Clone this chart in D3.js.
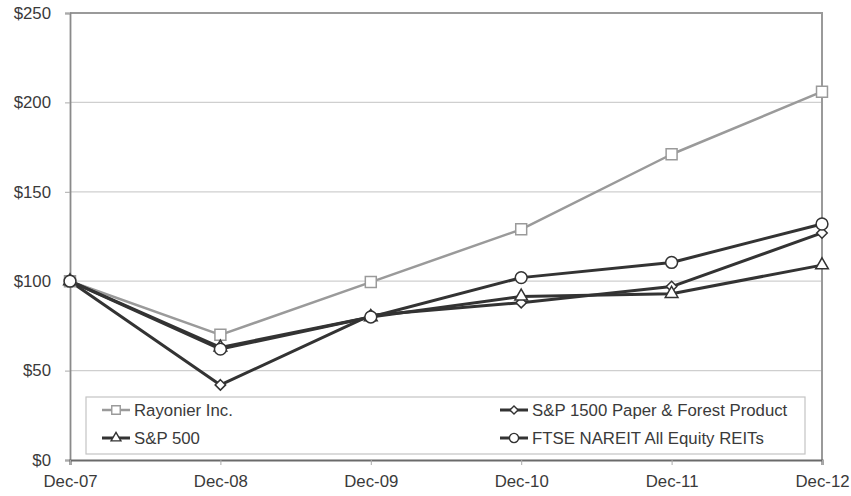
<!DOCTYPE html>
<html>
<head>
<meta charset="utf-8">
<script src="https://cdn.jsdelivr.net/npm/d3@7/dist/d3.min.js"></script>
<style>
  body { margin: 0; background: #fff; }
  svg { display: block; font-family: "Liberation Sans", Arial, sans-serif; }
</style>
</head>
<body>
<div id="chart"></div>
<script>
var WIDTH = 851;
var HEIGHT = 496;

// data
var dates = ["Dec-07", "Dec-08", "Dec-09", "Dec-10", "Dec-11", "Dec-12"];
var rayonier = [100, 70, 99.5, 129, 171, 206];
var paperForest = [100, 42, 81, 88, 97, 127];
var sp500 = [100, 63, 80, 91.5, 93, 109];
var ftseNareit = [100, 62, 80, 102, 110.5, 132];
var yTicks = [0, 50, 100, 150, 200, 250];

var series = [
	{ name: "Rayonier Inc.", values: rayonier, color: "#9a9a9a", width: 2.5, symbol: "square" },
	{ name: "S&P 1500 Paper & Forest Product", values: paperForest, color: "#333", width: 3, symbol: "diamond" },
	{ name: "S&P 500", values: sp500, color: "#333", width: 3, symbol: "triangle" },
	{ name: "FTSE NAREIT All Equity REITs", values: ftseNareit, color: "#333", width: 3, symbol: "circle" }
];

var margin = { top: 13, right: 29, bottom: 36, left: 70 };
var plotWidth = WIDTH - margin.left - margin.right;
var plotHeight = HEIGHT - margin.top - margin.bottom;

var svg = d3.select("#chart")
	.append("svg")
	.attr("width", WIDTH)
	.attr("height", HEIGHT);

var inner = svg.append("g")
	.attr("transform", `translate(${margin.left},${margin.top})`);

var xScale = d3.scalePoint().domain(dates).range([0, plotWidth]);
var yScale = d3.scaleLinear().domain([0, 250]).range([plotHeight, 0]);

// grid
inner.selectAll(".grid")
	.data(yTicks.filter(d => d > 0 && d < 250))
	.join("line")
	.attr("class", "grid")
	.attr("x1", 0)
	.attr("x2", plotWidth)
	.attr("y1", d => yScale(d))
	.attr("y2", d => yScale(d))
	.attr("stroke", "#cfcfcf")
	.attr("stroke-width", 1.2);

// frame top / right
inner.append("path")
	.attr("d", `M0,0H${plotWidth}V${plotHeight}`)
	.attr("fill", "none")
	.attr("stroke", "#9a9a9a")
	.attr("stroke-width", 2);

// y axis
var yAxis = inner.append("g")
	.call(d3.axisLeft(yScale).tickValues(yTicks).tickSize(5).tickPadding(14).tickFormat(d => "$" + d));
yAxis.select(".domain").attr("stroke", "#8a8a8a").attr("stroke-width", 1.8);
yAxis.selectAll(".tick line").attr("stroke", "#aaa");
yAxis.selectAll("text")
	.style("font-size", "16.8px")
	.attr("fill", "#3a3a3a");

// x axis
var xAxis = inner.append("g")
	.attr("transform", `translate(0,${plotHeight})`)
	.call(d3.axisBottom(xScale).tickSize(5).tickPadding(10));
xAxis.select(".domain").attr("stroke", "#6a6a6a").attr("stroke-width", 2.2);
xAxis.selectAll(".tick line").attr("stroke", "#aaa");
xAxis.selectAll("text")
	.style("font-size", "16.8px")
	.attr("fill", "#3a3a3a");

// rotated square for the diamond marker
var symbolDiamondWide = {
	draw(context, size) {
		var r = Math.sqrt(size / 2);
		context.moveTo(0, -r);
		context.lineTo(r, 0);
		context.lineTo(0, r);
		context.lineTo(-r, 0);
		context.closePath();
	}
};

var symbolTypes = {
	square: d3.symbolSquare,
	diamond: symbolDiamondWide,
	triangle: d3.symbolTriangle,
	circle: d3.symbolCircle
};
var symbolSizes = { square: 120, diamond: 55, triangle: 70, circle: 110 };

var line = d3.line()
	.x((d, i) => xScale(dates[i]))
	.y(d => yScale(d));

series.forEach(s => {
	inner.append("path")
		.datum(s.values)
		.attr("fill", "none")
		.attr("stroke", s.color)
		.attr("stroke-width", s.width)
		.attr("stroke-linejoin", "round")
		.attr("d", line);
});

series.forEach(s => {
	var sym = d3.symbol().type(symbolTypes[s.symbol]).size(symbolSizes[s.symbol]);
	inner.selectAll(null)
		.data(s.values)
		.join("path")
		.attr("transform", (d, i) => `translate(${xScale(dates[i])},${yScale(d)})`)
		.attr("d", sym)
		.attr("fill", "#fff")
		.attr("stroke", s.color)
		.attr("stroke-width", 1.5);
});

// legend
var legend = svg.append("g")
	.attr("transform", "translate(86,397)");

legend.append("rect")
	.attr("width", 719)
	.attr("height", 57)
	.attr("fill", "#fff")
	.attr("stroke", "#c4c4c4")
	.attr("stroke-width", 1.2);

var legendPos = [
	{ x: 16, y: 13 },
	{ x: 414, y: 13 },
	{ x: 16, y: 41 },
	{ x: 414, y: 41 }
];

series.forEach((s, i) => {
	var g = legend.append("g")
		.attr("transform", `translate(${legendPos[i].x},${legendPos[i].y})`);
	g.append("line")
		.attr("x1", 0)
		.attr("x2", 28)
		.attr("stroke", s.color)
		.attr("stroke-width", s.width);
	g.append("path")
		.attr("transform", "translate(14,0)")
		.attr("d", d3.symbol().type(symbolTypes[s.symbol]).size(symbolSizes[s.symbol] * 0.6))
		.attr("fill", "#fff")
		.attr("stroke", s.color)
		.attr("stroke-width", 1.4);
	g.append("text")
		.attr("x", 32)
		.attr("dy", "0.35em")
		.style("font-size", "16.8px")
		.attr("fill", "#3a3a3a")
		.text(s.name);
});
</script>
</body>
</html>
